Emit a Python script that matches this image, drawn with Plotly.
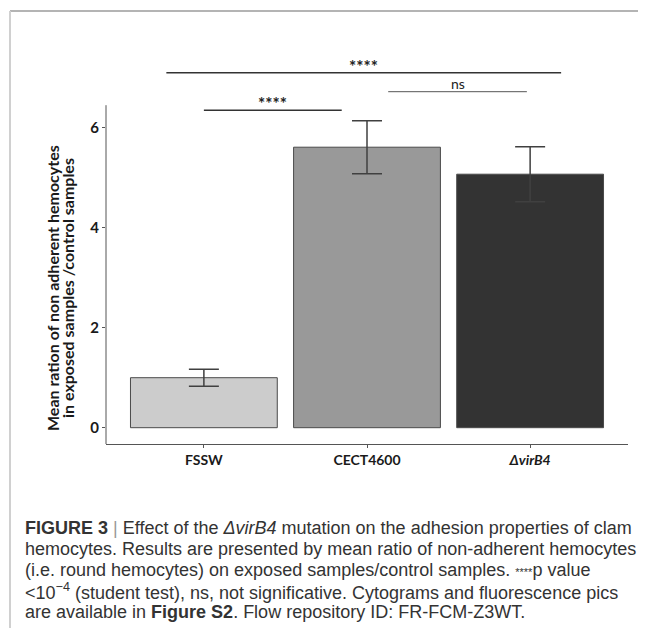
import plotly.graph_objects as go

# ---- data ----
categories = ["FSSW", "CECT4600", "ΔvirB4"]
tick_labels = ["<b>FSSW</b>", "<b>CECT4600</b>", "<b><i>ΔvirB4</i></b>"]
mean_ratio = [1.00, 5.61, 5.07]
error_sd = [0.17, 0.53, 0.55]
bar_colors = ["#cccccc", "#999999", "#333333"]
y_tick_values = [0, 2, 4, 6]

# significance brackets: (x start, x end, y level, label)
brackets = [
    (-0.23, 2.19, 7.10, "****"),
    (1.13, 1.98, 6.72, "ns"),
    (0.00, 0.845, 6.35, "****"),
]

# page has an 8px body margin; work in screenshot coordinates
OFF = 8
W, H = 646 - OFF, 631 - OFF
L, R, T, B = 98, 18, 52, 187
pw, ph = W - L - R, H - T - B


def px(xs):
    return (xs - OFF - L) / pw


def py(ys):
    return (H - B - (ys - OFF)) / ph


fig = go.Figure()
fig.add_trace(go.Bar(
    x=categories, y=mean_ratio, width=0.9,
    marker=dict(color=bar_colors, line=dict(color="#4a4a4a", width=1)),
    error_y=dict(type="data", array=error_sd, visible=True,
                 color="#404040", thickness=1.5, width=15),
    showlegend=False,
))

shapes = []
annotations = []

# y axis line (only up to the panel top)
shapes.append(dict(type="line", xref="paper", yref="y", x0=0, x1=0,
                   y0=-0.326, y1=6.45, line=dict(color="#555555", width=1)))

for x0, x1, yv, lab in brackets:
    dark = lab != "ns"
    shapes.append(dict(type="line", xref="x", yref="y", x0=x0, x1=x1, y0=yv, y1=yv,
                       line=dict(color="#333333" if dark else "#555555",
                                 width=1.5 if dark else 1)))
    annotations.append(dict(
        x=(x0 + x1) / 2, y=yv, xref="x", yref="y", yanchor="bottom",
        text="<b>" + lab + "</b>" if dark else lab, showarrow=False,
        font=dict(family="Lato", size=17 if dark else 14, color="#222222"),
        yshift=-6 if dark else -2,
    ))

# y-axis title (two lines)
annotations.append(dict(x=px(52), y=py(288), xref="paper", yref="paper",
                        text="<b>Mean ration of non adherent hemocytes</b>",
                        textangle=-90, showarrow=False, xanchor="center", yanchor="middle",
                        font=dict(family="Lato", size=16, color="#1a1a1a")))
annotations.append(dict(x=px(67), y=py(288), xref="paper", yref="paper",
                        text="<b>in exposed samples /control samples</b>",
                        textangle=-90, showarrow=False, xanchor="center", yanchor="middle",
                        font=dict(family="Lato", size=16, color="#1a1a1a")))

# frame around figure
shapes.append(dict(type="line", xref="paper", yref="paper", x0=px(10), x1=px(660),
                   y0=py(11), y1=py(11), line=dict(color="#b4b4b4", width=2)))
shapes.append(dict(type="line", xref="paper", yref="paper", x0=px(10), x1=px(10),
                   y0=py(11), y1=py(628), line=dict(color="#d0d0d0", width=2)))

# caption
caption_lines = [
    "<b>FIGURE 3</b> <span style='color:#999'>|</span> Effect of the <i>ΔvirB4</i> mutation on the adhesion properties of clam",
    "hemocytes. Results are presented by mean ratio of non-adherent hemocytes",
    "(i.e. round hemocytes) on exposed samples/control samples. <span style='font-size:11px'>****</span>p value",
    "&lt;10<sup>−4</sup> (student test), ns, not significative. Cytograms and fluorescence pics",
    "are available in <b>Figure S2</b>. Flow repository ID: FR-FCM-Z3WT.",
]
for i, line in enumerate(caption_lines):
    annotations.append(dict(x=px(23), y=py(528 + 21 * i), xref="paper", yref="paper",
                            text=line, showarrow=False, xanchor="left", yanchor="middle",
                            font=dict(family="Liberation Sans", size=18, color="#333333")))

fig.update_layout(
    width=W, height=H,
    margin=dict(l=L, r=R, t=T, b=B, pad=0),
    paper_bgcolor="white", plot_bgcolor="white",
    shapes=shapes, annotations=annotations,
    bargap=0.1,
    xaxis=dict(type="category", categoryorder="array", categoryarray=categories,
               tickvals=categories, ticktext=tick_labels, range=[-0.6, 2.6],
               showline=True, linecolor="#555555", linewidth=1,
               ticks="outside", ticklen=3, tickcolor="#555555",
               showgrid=False, zeroline=False,
               tickfont=dict(family="Lato", size=14, color="#1a1a1a")),
    yaxis=dict(range=[-0.326, 7.354], tickvals=y_tick_values,
               ticktext=["<b>%d</b>" % v for v in y_tick_values],
               showline=False, ticks="outside", ticklen=3, tickcolor="#555555",
               showgrid=False, zeroline=False,
               tickfont=dict(family="Lato", size=15, color="#1a1a1a")),
)

fig.write_html("out.html")
